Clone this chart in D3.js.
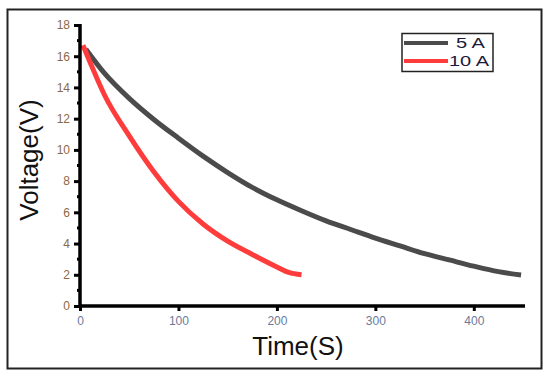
<!DOCTYPE html>
<html>
<head>
<meta charset="utf-8">
<script src="https://cdn.jsdelivr.net/npm/d3@7"></script>
<style>
  body { margin: 0; background: #fff; }
  svg text { font-family: "Liberation Sans", Arial, sans-serif; }
</style>
</head>
<body>
<div id="chart"></div>
<script>
// Series
var time5A = [6, 25, 50, 75, 100, 125, 150, 175, 200, 225, 250, 275, 300, 325, 350, 375, 400, 425, 448],
    volt5A = [16.45, 14.9, 13.3, 11.95, 10.75, 9.6, 8.55, 7.6, 6.8, 6.1, 5.45, 4.9, 4.35, 3.85, 3.35, 2.95, 2.55, 2.2, 1.98];
var time10A = [3, 10, 25, 50, 75, 100, 125, 150, 175, 200, 212, 225],
    volt10A = [16.7, 15.65, 13.5, 10.9, 8.6, 6.7, 5.25, 4.15, 3.3, 2.5, 2.15, 2.0];
var seriesNames = ["5 A", "10 A"],
    seriesColors = ["#4b4b4b", "#ff3c3c"];
var xTicks = [0, 100, 200, 300, 400],
    yTicks = [0, 2, 4, 6, 8, 10, 12, 14, 16, 18],
    yMinorTicks = [1, 3, 5, 7, 9, 11, 13, 15, 17];

var width = 550, height = 380;
var svg = d3.select("#chart").append("svg")
  .attr("width", width).attr("height", height);

// outer frame
svg.append("rect")
  .attr("x", 7.5).attr("y", 9.5)
  .attr("width", 534).attr("height", 359)
  .attr("fill", "none").attr("stroke", "#222").attr("stroke-width", 2);

var x = d3.scaleLinear().domain([0, 452]).range([80, 525]);
var y = d3.scaleLinear().domain([0, 18]).range([306, 25]);

var series = [
  {name: seriesNames[0], color: seriesColors[0], t: time5A, v: volt5A},
  {name: seriesNames[1], color: seriesColors[1], t: time10A, v: volt10A}
];

var line = d3.line()
  .x(function(d){ return x(d[0]); })
  .y(function(d){ return y(d[1]); })
  .curve(d3.curveMonotoneX);

series.forEach(function(s){
  svg.append("path")
    .datum(d3.zip(s.t, s.v))
    .attr("d", line)
    .attr("fill", "none")
    .attr("stroke", s.color)
    .attr("stroke-width", 5)
    .attr("stroke-linejoin", "round");
});

// axes
var yAxis = d3.axisLeft(y).tickValues(yTicks).tickSize(6).tickPadding(4);
var gy = svg.append("g").attr("transform", "translate(80,0)").call(yAxis);
gy.selectAll(".tick line").attr("stroke", "#000").attr("stroke-width", 3);
gy.select(".domain").remove();
gy.selectAll(".tick text").attr("font-size", 12).attr("fill", "#8a6a45")
  .attr("font-family", "Liberation Sans, Arial, sans-serif");

gy.selectAll(".minor").data(yMinorTicks).enter().append("line")
  .attr("class", "minor")
  .attr("x1", -3).attr("x2", 0)
  .attr("y1", function(d){ return y(d); }).attr("y2", function(d){ return y(d); })
  .attr("stroke", "#000").attr("stroke-width", 3);

var xAxis = d3.axisBottom(x).tickValues(xTicks).tickSize(5).tickPadding(5);
var gx = svg.append("g").attr("transform", "translate(0,306)").call(xAxis);
gx.selectAll(".tick line").attr("stroke", "#000").attr("stroke-width", 3);
gx.select(".domain").remove();
gx.selectAll(".tick text").attr("font-size", 12).attr("fill", "#6a7a9a")
  .attr("font-family", "Liberation Sans, Arial, sans-serif");

svg.append("line")
  .attr("x1", x(0)).attr("x2", x(452))
  .attr("y1", y(0)).attr("y2", y(0))
  .attr("stroke", "#000").attr("stroke-width", 3.5);
svg.append("line")
  .attr("x1", x(0)).attr("x2", x(0))
  .attr("y1", y(0) + 2).attr("y2", y(18) - 1)
  .attr("stroke", "#000").attr("stroke-width", 3.5);

// axis titles
svg.append("text")
  .attr("x", 298).attr("y", 355)
  .attr("text-anchor", "middle")
  .attr("font-size", 26)
  .attr("fill", "#111")
  .text("Time(S)");

svg.append("text")
  .attr("transform", "translate(38,160) rotate(-90)")
  .attr("text-anchor", "middle")
  .attr("font-size", 26)
  .attr("fill", "#111")
  .text("Voltage(V)");

// legend
var legend = svg.append("g");
legend.append("rect")
  .attr("x", 402).attr("y", 33.5)
  .attr("width", 91).attr("height", 38)
  .attr("fill", "#fff").attr("stroke", "#222").attr("stroke-width", 1.5);
var ly = d3.scalePoint().domain(seriesNames).range([43, 61]);
var lx = {"5 A": [456, 29], "10 A": [449, 40]};
series.forEach(function(s){
  legend.append("line")
    .attr("x1", 404).attr("x2", 448)
    .attr("y1", ly(s.name)).attr("y2", ly(s.name))
    .attr("stroke", s.color).attr("stroke-width", 4);
  legend.append("text")
    .attr("x", lx[s.name][0]).attr("y", ly(s.name) + 5)
    .attr("textLength", lx[s.name][1])
    .attr("lengthAdjust", "spacingAndGlyphs")
    .attr("font-size", 14)
    .attr("fill", "#1a1a3a")
    .text(s.name);
});
</script>
</body>
</html>
